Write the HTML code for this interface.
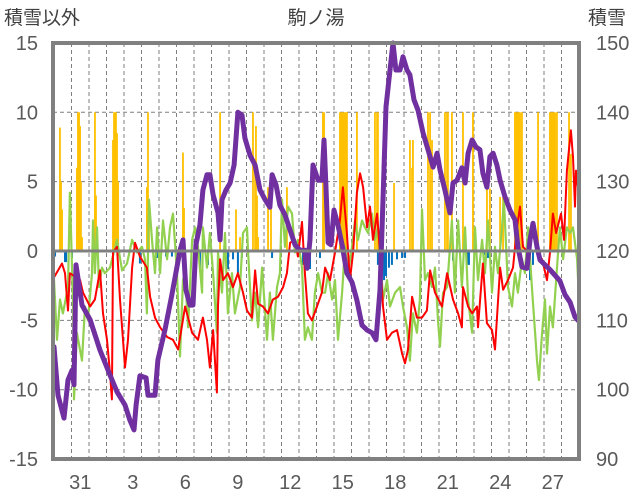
<!DOCTYPE html>
<html><head><meta charset="utf-8">
<style>
html,body{margin:0;padding:0;background:#fff;}
svg{display:block;font-family:"Liberation Sans","Noto Sans CJK JP",sans-serif;}
</style></head>
<body>
<svg id="chart" width="636" height="501" viewBox="0 0 636 501" xmlns="http://www.w3.org/2000/svg">
  <rect x="0" y="0" width="636" height="501" fill="#fff"/>
  <text x="4" y="24" font-size="19" fill="#404040">積雪以外</text>
  <text x="316" y="24" font-size="19" fill="#404040" text-anchor="middle">駒ノ湯</text>
  <text x="588" y="24" font-size="19" fill="#404040">積雪</text>
  <g id="grid"></g>
  <g id="bars"></g>
  <g id="lines"></g>
  <g id="axes"></g>
</svg>
<script>
const dayLabels = ["31","3","6","9","12","15","18","21","24","27"];
const dayLabelIdx = [1,4,7,10,13,16,19,22,25,28];
const leftTicks = [15,10,5,0,-5,-10,-15];
const rightTicks = [150,140,130,120,110,100,90];

const precipDay = [0.34,0.40,0.46,1.31,1.37,1.43,1.49,1.54,1.60,2.34,2.40,3.37,3.43,3.49,3.54,3.60,3.66,5.31,5.37,5.43,7.37,7.43,9.49,10.40,10.63,11.37,11.49,11.54,11.60,11.66,12.23,12.40,13.31,15.37,15.43,16.34,16.40,16.46,16.51,16.57,16.63,16.69,16.74,17.31,18.34,18.46,18.51,19.43,20.34,20.46,20.51,21.37,21.49,21.60,22.34,22.46,22.51,22.74,23.37,23.94,24.74,24.91,25.49,25.66,26.34,26.40,26.46,26.51,26.57,26.63,26.74,27.66,28.34,28.40,28.46,28.51,28.57,28.63,28.74,29.43,29.54];
const precipVal = [8.9,5,3,6,10,10,9,5,1,10,4,8,10,10,10,8.5,5,4.6,10,3,7.1,3.1,10,3,1,10,6,9,4,1,4.6,4.6,4.6,10,10,10,10,10,10,10,10,10,10,10,10,10,10,4.9,8,6,8,10,10,8,10,10,10,10,10,10,4.5,4.5,3.9,3.9,10,10,10,10,10,10,10,10,10,10,10,10,10,10,10,10,7];

const negDay = [0.06,0.63,0.69,1.03,4.91,5.37,5.89,6.40,6.74,7.20,8.34,8.80,9.94,10.23,10.51,10.74,12.46,14.23,14.51,14.63,15.20,18.51,18.69,18.86,18.97,19.14,19.31,19.60,19.89,20.06,22.80,23.60,23.71,24.57,24.80,27.20,27.37];
const negVal = [-0.4,-0.8,-0.8,-0.5,-0.9,-0.4,-0.5,-0.4,-0.4,-0.6,-1.2,-1.0,-1.3,-0.6,-1.6,-0.5,-0.5,-1.0,-1.0,-1.3,-0.5,-1,-1.5,-2.1,-1.8,-1.2,-1.0,-0.6,-0.5,-0.5,-0.7,-1.0,-1.0,-0.3,-0.5,-2.1,-1.0];

const greenDay = [0,0.17,0.34,0.51,0.80,0.91,1.09,1.14,1.31,1.60,1.77,1.94,2.17,2.23,2.34,2.46,2.57,2.74,2.91,3.20,3.60,3.89,4.17,4.46,4.74,5.03,5.20,5.31,5.43,5.60,5.77,5.89,6.06,6.23,6.46,6.63,6.80,7.03,7.20,7.37,7.49,7.66,7.89,8.06,8.23,8.46,8.51,8.74,8.91,9.09,9.31,9.37,9.60,9.77,9.94,10.17,10.34,10.63,10.80,11.03,11.09,11.31,11.49,11.66,11.89,12.17,12.34,12.51,12.74,12.91,13.03,13.20,13.37,13.60,13.77,13.94,14.17,14.34,14.51,14.74,14.91,15.09,15.31,15.49,15.66,15.89,16.06,16.23,16.46,16.63,16.80,17.03,17.20,17.37,17.60,17.77,17.94,18.17,18.34,18.51,18.74,18.80,19.03,19.20,19.49,19.77,19.94,20.17,20.34,20.51,20.74,20.91,21.03,21.20,21.37,21.60,21.77,21.94,22.06,22.23,22.46,22.74,22.91,23.09,23.31,23.49,23.66,23.89,24.06,24.23,24.46,24.63,24.80,25.03,25.20,25.37,25.60,25.71,25.94,26.17,26.34,26.51,26.74,26.91,27.09,27.31,27.49,27.60,27.71,27.89,28.06,28.17,28.34,28.51,28.74,28.91,29.09,29.31,29.49,29.66,29.89,30.0];
const greenVal = [-2.1,-6.4,-3.5,-4.5,-2.6,4.2,-4.0,-10.7,-5.9,-7.9,-4.0,-5.0,-1.6,2.2,-1.6,1.7,-2.6,-1.2,-1.6,-1.2,0.8,-1.4,-0.9,0.8,-0.1,0.3,-0.6,-4.5,3.7,0.8,-1.6,1.7,-1.6,2.2,-0.6,1.7,2.7,-1.6,-7.6,-2.1,-1.6,-5.5,0.8,1.7,0.3,-3.0,1.7,-1.2,1.3,-1.6,-5.9,-0.1,-3.0,1.3,-4.5,-1.6,-4.5,-2.6,1.3,1.7,-0.1,-5.0,-3.0,-5.5,-1.2,-6.4,-3.0,-6.4,-2.6,-1.6,3.7,0.3,3.2,2.7,-0.1,0.8,-1.2,-6.4,-5.5,-6.4,-3.0,-1.6,-3.0,-3.0,-1.6,-3.5,-2.1,-6.4,-3.0,0.3,-1.6,0.3,2.2,0.8,2.2,1.7,1.3,2.7,0.8,1.7,-2.1,-3.5,-2.1,-4.0,-3.0,-2.6,-4.0,-5.5,-7.9,-4.5,-5.9,-3.5,3.0,-2.1,-1.6,-2.6,-1.2,-5.0,-6.9,-3.0,-2.6,2.2,-3.0,2.2,-2.6,1.7,-3.5,-5.9,1.7,-2.1,0.8,-1.6,2.2,-3.0,0.3,-1.6,1.7,3.7,-2.6,-4.0,-1.6,-3.0,-0.6,-1.6,1.7,-2.6,-5.9,-7.9,-9.3,-5.9,-3.5,-7.4,-4.0,-5.5,-1.2,1.7,-0.6,1.7,1.3,1.7,-0.6,-3.5];

const tempDay = [0,0.46,0.63,0.80,0.91,1.49,1.66,2.06,2.34,2.63,2.80,3.03,3.20,3.31,3.37,3.60,3.77,3.94,4.06,4.23,4.34,4.46,4.63,4.91,5.31,5.49,5.77,6.06,6.46,6.80,7.09,7.49,7.89,8.23,8.51,8.74,8.91,9.09,9.31,9.37,9.49,9.66,9.94,10.23,10.51,10.80,11.03,11.31,11.49,11.66,11.94,12.23,12.51,12.80,13.09,13.31,13.49,13.77,13.94,14.17,14.34,14.51,14.74,15.03,15.31,15.49,15.77,16.06,16.34,16.51,16.74,16.91,17.09,17.31,17.49,17.66,17.89,18.06,18.23,18.46,18.63,18.80,19.03,19.31,19.60,19.89,20.06,20.23,20.46,20.74,21.03,21.31,21.49,21.77,22.17,22.46,22.80,23.09,23.31,23.37,23.66,23.89,24.17,24.23,24.51,24.74,25.03,25.20,25.49,25.66,25.94,26.23,26.46,26.63,26.80,27.09,27.31,27.60,27.89,28.17,28.34,28.51,28.69,28.97,29.14,29.31,29.54,29.66,29.77,29.83,29.94];
const tempVal = [-1.9,-0.9,-1.6,-4.3,-1.6,-2.1,-3.0,-4.0,-3.5,-1.4,-4.5,-6.4,-8.8,-10.7,-0.1,0.3,-3.5,-6.4,-8.4,-6.4,-4.0,-1.2,0.6,-0.4,-1.2,-3.3,-4.8,-5.5,-6.2,-6.4,-7.1,-4.0,-5.9,-6.4,-4.8,-6.4,-8.4,-5.7,-10.2,-4.0,-0.6,-2.1,-1.6,-2.6,-1.6,-3.0,-4.3,-4.8,-1.4,-3.8,-4.0,-4.5,-3.5,-3.3,-2.6,-1.6,0.6,0.8,-0.4,2.1,-1.6,-4.5,-5.0,-4.0,-3.0,-1.2,-2.1,-0.1,2.2,4.6,1.3,-2.1,-0.1,4.2,5.6,4.6,1.7,3.2,0.8,2.7,-0.1,-4.0,-6.4,-5.9,-5.7,-7.4,-8.1,-7.1,-3.3,-4.8,-4.8,-4.3,-1.4,-3.0,-4.0,-1.6,-3.5,-4.5,-5.5,-2.6,-4.0,-4.5,-4.0,-5.5,-0.9,-5.2,-5.7,-7.1,-1.2,-2.8,-2.1,-1.2,1.7,3.2,0.3,-0.1,1.7,-0.1,-0.6,-2.1,-0.1,2.7,1.3,2.7,0.8,5.8,8.7,6.8,3.2,5.8,4.6];

const snowDay = [0,0.23,0.57,0.80,1.03,1.14,1.26,1.60,2.06,2.63,3.20,3.60,4.06,4.34,4.57,4.69,4.91,5.26,5.37,5.77,5.94,6.34,6.74,7.20,7.37,7.54,7.77,7.94,8.11,8.34,8.51,8.74,8.91,9.09,9.37,9.49,9.60,9.83,10.06,10.29,10.51,10.74,10.91,11.20,11.49,11.77,12.06,12.34,12.46,12.69,12.91,13.20,13.49,13.77,14.06,14.34,14.46,14.63,14.80,15.09,15.31,15.43,15.54,15.66,15.83,16.00,16.23,16.46,16.74,17.03,17.31,17.60,17.89,18.17,18.40,18.63,18.80,18.97,19.20,19.37,19.54,19.77,19.94,20.17,20.34,20.57,20.80,21.09,21.37,21.66,21.89,22.06,22.34,22.63,22.80,23.03,23.31,23.49,23.66,23.89,24.11,24.34,24.51,24.74,24.91,25.09,25.31,25.49,25.77,26.06,26.34,26.51,26.74,27.03,27.20,27.37,27.60,27.77,28.06,28.34,28.63,28.91,29.20,29.49,29.77,29.94];
const snowVal = [106.2,99.2,95.9,101.4,102.8,100.7,118.0,112.2,110.1,105.7,102.1,99.7,97.8,95.6,94.2,97.8,102.0,101.7,99.2,99.2,104.3,108.6,113.7,120.1,121.6,114.4,112.2,112.2,120.9,123.7,128.8,131.0,131.0,128.1,125.5,121.6,127.4,128.8,129.8,132.4,140.0,139.6,136.3,133.8,132.4,128.8,127.4,126.3,131.0,129.5,126.6,125.2,123.0,120.9,120.1,120.1,117.5,121.6,132.4,130.2,130.2,136.0,129.5,121.2,120.9,125.9,123.7,120.9,116.8,115.5,112.9,109.3,108.6,108.2,107.2,114.4,127.4,140.8,146.1,150.0,146.1,146.1,148.0,146.1,145.4,141.8,140.3,137.0,134.6,132.1,134.1,131.7,128.8,125.5,129.8,130.2,132.0,129.8,134.1,136.0,135.0,134.6,131.2,129.2,133.6,134.1,132.4,130.2,127.8,125.9,124.5,120.6,117.7,117.5,121.6,124.0,120.6,118.7,118.0,117.3,116.5,115.7,113.7,112.6,110.5,110.0];

const NS = "http://www.w3.org/2000/svg";
const X0 = 54, DAYW = 17.5, PL = 53, PR = 579, PT = 43, PB = 459;
function xd(d){ return X0 + d*DAYW; }
function yl(v){ return 251 - v*13.87; }
function yr(s){ return yl((s-120)/2); }
function mk(tag, attrs, parent){ const e=document.createElementNS(NS,tag); for(const k in attrs) e.setAttribute(k,attrs[k]); parent.appendChild(e); return e; }

const grid=document.getElementById('grid'), bars=document.getElementById('bars'), lines=document.getElementById('lines'), axes=document.getElementById('axes');

for(let k=1;k<30;k++){
  const l=mk('line',{x1:xd(k),x2:xd(k),y1:PT,y2:PB,stroke:'#7f7f7f','stroke-width':1,'stroke-dasharray':'4,3'},grid);
  
  
}
leftTicks.forEach(v=>{
  if(v===15||v===-15||v===0) return;
  const l=mk('line',{x1:PL,x2:PR,y1:yl(v),y2:yl(v),stroke:'#7f7f7f','stroke-width':1,'stroke-dasharray':'4,3'},grid);
  
  
});

precipDay.forEach((d,i)=>{
  const v=precipVal[i];
  const r=mk('rect',{x:xd(d)-0.9,y:yl(v),width:1.8,height:yl(0)-yl(v),fill:'#FFC000'},bars);
  
  
});
negDay.forEach((d,i)=>{
  const v=negVal[i];
  const r=mk('rect',{x:xd(d)-1,y:yl(0),width:2,height:yl(v)-yl(0),fill:'#0070C0'},bars);
  
  
});

function poly(days, vals, yf, color, w, name){
  const pts=days.map((d,i)=>xd(d).toFixed(1)+','+yf(vals[i]).toFixed(1)).join(' ');
  const p=mk('polyline',{points:pts,fill:'none',stroke:color,'stroke-width':w,'stroke-linejoin':'round','stroke-linecap':'round'},lines);
  
  
}
poly(greenDay, greenVal, yl, '#92D050', 2.2, 'green-series-line');
poly(tempDay, tempVal, yl, '#FF0000', 2, 'temperature-line');
poly(snowDay, snowVal, yr, '#7030A0', 5, 'snow-depth-line');

const zl=mk('line',{x1:PL,x2:PR,y1:yl(0),y2:yl(0),stroke:'#808080','stroke-width':3},axes);


const fr=mk('rect',{x:PL,y:PT,width:PR-PL,height:PB-PT,fill:'none',stroke:'#808080','stroke-width':4},axes);



leftTicks.forEach(v=>{
  const t=mk('text',{x:38,y:yl(v)+7,'font-size':20,fill:'#595959','text-anchor':'end'},axes);
  t.textContent=String(v);
  
  
});
rightTicks.forEach(s=>{
  const t=mk('text',{x:596,y:yr(s)+7,'font-size':20,fill:'#595959'},axes);
  t.textContent=String(s);
  
  
});
dayLabels.forEach((lab,i)=>{
  const t=mk('text',{x:xd(dayLabelIdx[i]+0.5),y:489,'font-size':20,fill:'#595959','text-anchor':'middle'},axes);
  t.textContent=lab;
  
  
});
</script>
</body></html>
